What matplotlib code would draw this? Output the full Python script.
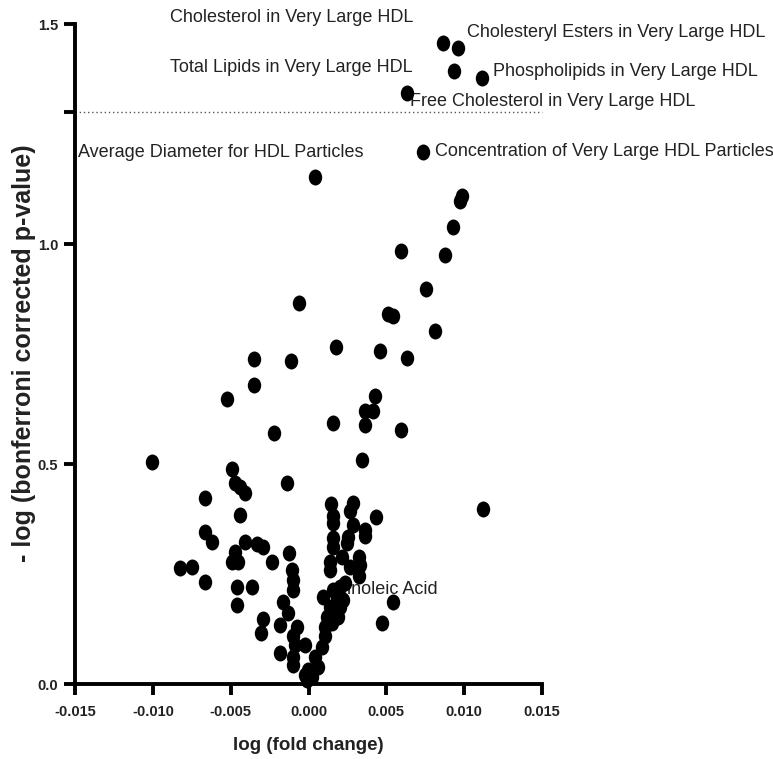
import matplotlib
matplotlib.use("Agg")
import matplotlib.pyplot as plt
from matplotlib.path import Path
from matplotlib.transforms import Affine2D

plt.rcParams['font.family'] = ['Liberation Sans', 'DejaVu Sans']

# log fold change
log_fc = [
    0.00864, 0.00962, 0.00935, 0.01113, 0.00631, 0.00737, 0.00042, 0.00973, 0.00986, 0.00930,
    0.00592, 0.00877, 0.00753, -0.00059, 0.00513, 0.00545, 0.00813, 0.00175, 0.00459, 0.00635,
    -0.00114, -0.00350, -0.00352, -0.00522, 0.00429, 0.00363, 0.00416, 0.00159, 0.00363, 0.00592,
    -0.00220, 0.00344, -0.01005, -0.00491, -0.00475, -0.00440, -0.00408, -0.00141, -0.00665, 0.00143,
    0.00284, 0.00267, 0.01123, 0.00434, -0.00440, 0.00159, 0.00159, 0.00284, 0.00363, 0.00363,
    -0.00665, -0.00622, 0.00159, 0.00256, 0.00245, 0.00159, -0.00408, -0.00333, -0.00290, -0.00472,
    -0.00493, -0.00451, -0.00125, -0.00236, 0.00213, 0.00326, 0.00138, 0.00267, 0.00331, 0.00138,
    0.00326, -0.00108, -0.00101, -0.00098, -0.00825, -0.00750, -0.00665, -0.00461, -0.00365, -0.00457,
    -0.00162, -0.00130, -0.00290, -0.00307, -0.00183, -0.00076, -0.00098, -0.00087, -0.00022, -0.00183,
    -0.00098, -0.00098, -0.00022, -0.00012, -0.00001, 0.00063, 0.00042, 0.00085, 0.00106, 0.00106,
    0.00149, 0.00117, 0.00191, 0.00138, 0.00202, 0.00095, 0.00181, 0.00224, 0.00159, 0.00202,
    0.00234, 0.00470, 0.00541, 0.00020,
]
# -log(bonferroni corrected p-value)
neg_log_p = [
    1.457, 1.446, 1.394, 1.377, 1.344, 1.210, 1.153, 1.098, 1.109, 1.039,
    0.985, 0.975, 0.898, 0.865, 0.841, 0.837, 0.802, 0.766, 0.757, 0.741,
    0.735, 0.739, 0.680, 0.648, 0.655, 0.621, 0.620, 0.593, 0.589, 0.577,
    0.571, 0.508, 0.504, 0.489, 0.457, 0.448, 0.433, 0.456, 0.422, 0.409,
    0.411, 0.394, 0.397, 0.379, 0.384, 0.382, 0.365, 0.361, 0.350, 0.337,
    0.346, 0.323, 0.331, 0.335, 0.320, 0.312, 0.323, 0.318, 0.312, 0.301,
    0.278, 0.278, 0.298, 0.277, 0.289, 0.289, 0.278, 0.267, 0.270, 0.259,
    0.245, 0.259, 0.236, 0.214, 0.263, 0.265, 0.232, 0.220, 0.221, 0.180,
    0.187, 0.161, 0.147, 0.115, 0.134, 0.130, 0.108, 0.089, 0.089, 0.070,
    0.062, 0.043, 0.020, 0.009, 0.032, 0.039, 0.062, 0.085, 0.108, 0.130,
    0.138, 0.153, 0.153, 0.176, 0.176, 0.198, 0.198, 0.191, 0.214, 0.221,
    0.230, 0.138, 0.187, 0.017,
]

label_names = [
    "Cholesterol in Very Large HDL",
    "Total Lipids in Very Large HDL",
    "Cholesteryl Esters in Very Large HDL",
    "Phospholipids in Very Large HDL",
    "Free Cholesterol in Very Large HDL",
    "Concentration of Very Large HDL Particles",
    "Average Diameter for HDL Particles",
    "Linoleic Acid",
]
label_x = [0.00671, 0.00671, 0.01018, 0.01185, 0.00652, 0.00813, -0.0148, 0.00832]
label_y = [1.514, 1.402, 1.480, 1.393, 1.323, 1.211, 1.207, 0.214]
label_ha = ["right", "right", "left", "left", "left", "left", "left", "right"]

x_ticks = [-0.015, -0.010, -0.005, 0.000, 0.005, 0.010, 0.015]
x_tick_labels = ["-0.015", "-0.010", "-0.005", "0.000", "0.005", "0.010", "0.015"]
y_ticks = [0.0, 0.5, 1.0, 1.3, 1.5]
y_tick_labels = ["0.0", "0.5", "1.0", "", "1.5"]
threshold = 1.3

fig = plt.figure(figsize=(7.73, 7.59), dpi=100)
ax = fig.add_axes([75/773, 75/759, 467/773, 660/759])

ell = Path.unit_circle().transformed(Affine2D().scale(0.84, 1.0))
ax.scatter(log_fc, neg_log_p, s=11.5**2, marker=ell, color='black',
           linewidths=0, zorder=3, clip_on=False)

ax.plot([-0.015, 0.015], [threshold, threshold], linestyle=(0, (1, 2)),
        color='#555555', linewidth=1.0, zorder=1, clip_on=False)

for name, lx, ly, ha in zip(label_names, label_x, label_y, label_ha):
    ax.text(lx, ly, name, ha=ha, va='center', fontsize=13, color='#222222',
            zorder=2, clip_on=False)

ax.set_xlim(-0.015, 0.015)
ax.set_ylim(0, 1.5)
ax.set_xticks(x_ticks)
ax.set_xticklabels(x_tick_labels, fontsize=10.5, fontweight='bold', color='#222222')
ax.set_yticks(y_ticks)
ax.set_yticklabels(y_tick_labels, fontsize=10.5, fontweight='bold', color='#222222')

for s in ['top', 'right']:
    ax.spines[s].set_visible(False)
for s in ['left', 'bottom']:
    ax.spines[s].set_linewidth(2.8)
    ax.spines[s].set_color('black')
ax.tick_params(axis='both', direction='out', length=8, width=2.8, color='black')
ax.tick_params(axis='x', pad=7)
ax.tick_params(axis='y', pad=4)

fig.text(308.5/773, 1 - 745/759, "log (fold change)", ha='center', va='center',
         fontsize=13.5, fontweight='bold', color='#222222')
fig.text(24/773, 1 - 353/759, "- log (bonferroni corrected p-value)", ha='center',
         va='center', rotation=90, fontsize=18, fontweight='bold', color='#222222')

fig.savefig("out.png", dpi=100)
